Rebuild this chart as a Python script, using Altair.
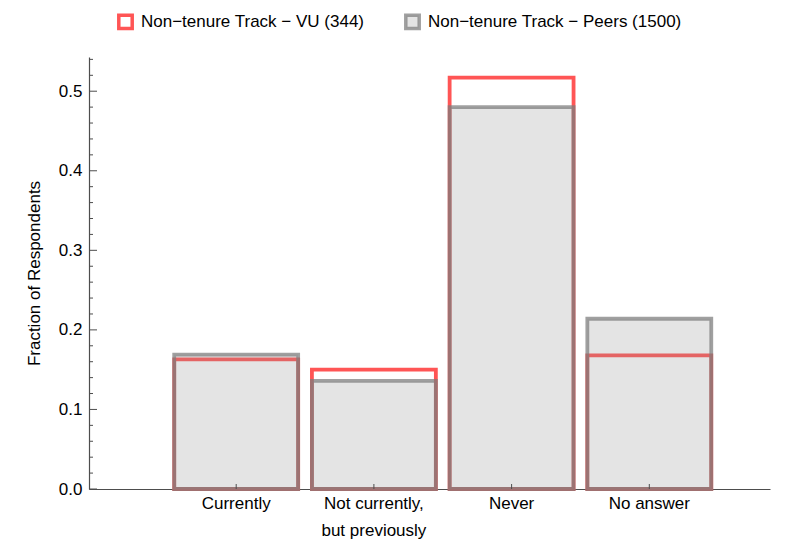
import altair as alt
import pandas as pd

categories = ["Currently", "Not currently,\nbut previously", "Never", "No answer"]
vu_values = [0.163, 0.150, 0.517, 0.168]
peer_values = [0.169, 0.136, 0.480, 0.214]
series_names = ["Non\u2212tenure Track \u2212 VU (344)", "Non\u2212tenure Track \u2212 Peers (1500)"]
y_major = [0.0, 0.1, 0.2, 0.3, 0.4, 0.5]
y_minor = [0.02, 0.04, 0.06, 0.08, 0.12, 0.14, 0.16, 0.18, 0.22, 0.24, 0.26, 0.28,
           0.32, 0.34, 0.36, 0.38, 0.42, 0.44, 0.46, 0.48, 0.52, 0.54]

rows = []
for c, v in zip(categories, vu_values):
    rows.append({"category": c, "series": series_names[0], "value": v})
for c, v in zip(categories, peer_values):
    rows.append({"category": c, "series": series_names[1], "value": v})
bars_df = pd.DataFrame(rows)
cat_df = pd.DataFrame({"category": categories})
major_df = pd.DataFrame({"tick": y_major})
minor_df = pd.DataFrame({"tick": y_minor})

W, H = 681, 432
AXIS_COLOR = "#4d4d4d"
FONT = "Liberation Sans"
FS = 17

x_scale = alt.Scale(paddingInner=0.1, paddingOuter=0.5227, align=0.592)
y_scale = alt.Scale(domain=[0, 0.543], nice=False)

legend = alt.Legend(
    title=None, orient="none", legendX=28, legendY=-44, direction="horizontal",
    symbolType="square", symbolSize=180, symbolStrokeWidth=3.5,
    labelFontSize=FS, labelOffset=7, columnPadding=33, labelColor="#000000",
    labelFont=FONT, labelLimit=0,
)

bars = alt.Chart(bars_df).mark_bar(opacity=1).encode(
    x=alt.X("category:N", sort=categories, scale=x_scale,
            axis=alt.Axis(title=None, labelAngle=0, ticks=False,
                          labelExpr="split(datum.label, '\\n')",
                          labelFontSize=FS, labelLineHeight=27, labelPadding=6,
                          domainColor=AXIS_COLOR, domainWidth=1.2,
                          labelColor="#000000", labelFont=FONT)),
    y=alt.Y("value:Q", stack=None, scale=y_scale,
            axis=alt.Axis(values=y_major, format=".1f", ticks=False, grid=False,
                          title="Fraction of Respondents", titleFontWeight="normal",
                          titleFontSize=FS, titleFont=FONT, titleColor="#000000",
                          titlePadding=15, labelPadding=7, labelFontSize=FS,
                          labelFont=FONT, labelColor="#000000",
                          domainColor=AXIS_COLOR, domainWidth=1.2)),
    stroke=alt.Stroke("series:N",
                      scale=alt.Scale(domain=series_names,
                                      range=["#ff5555", "rgba(123,123,123,0.72)"]),
                      legend=legend),
    fill=alt.Fill("series:N",
                  scale=alt.Scale(domain=series_names,
                                  range=["rgba(255,255,255,0)", "rgba(147,147,147,0.25)"]),
                  legend=legend),
    strokeWidth=alt.value(3.8),
)

x_ticks = alt.Chart(cat_df).mark_rule(color=AXIS_COLOR, strokeWidth=1).encode(
    x=alt.X("category:N", sort=categories, scale=x_scale),
    y=alt.value(H),
    y2=alt.value(H - 5),
)

y_major_ticks = alt.Chart(major_df).mark_rule(color=AXIS_COLOR, strokeWidth=1).encode(
    y=alt.Y("tick:Q", scale=y_scale),
    x=alt.value(0),
    x2=alt.value(8),
)

y_minor_ticks = alt.Chart(minor_df).mark_rule(color=AXIS_COLOR, strokeWidth=1).encode(
    y=alt.Y("tick:Q", scale=y_scale),
    x=alt.value(0),
    x2=alt.value(4),
)

chart = alt.layer(bars, y_minor_ticks, y_major_ticks, x_ticks).properties(
    width=W, height=H,
    autosize=alt.AutoSizeParams(type="none"),
    padding={"left": 81, "top": 49, "right": 7, "bottom": 54},
).configure(background="white", font=FONT).configure_view(stroke=None)

chart.save("out.html", embed_options={"renderer": "svg", "actions": False})
